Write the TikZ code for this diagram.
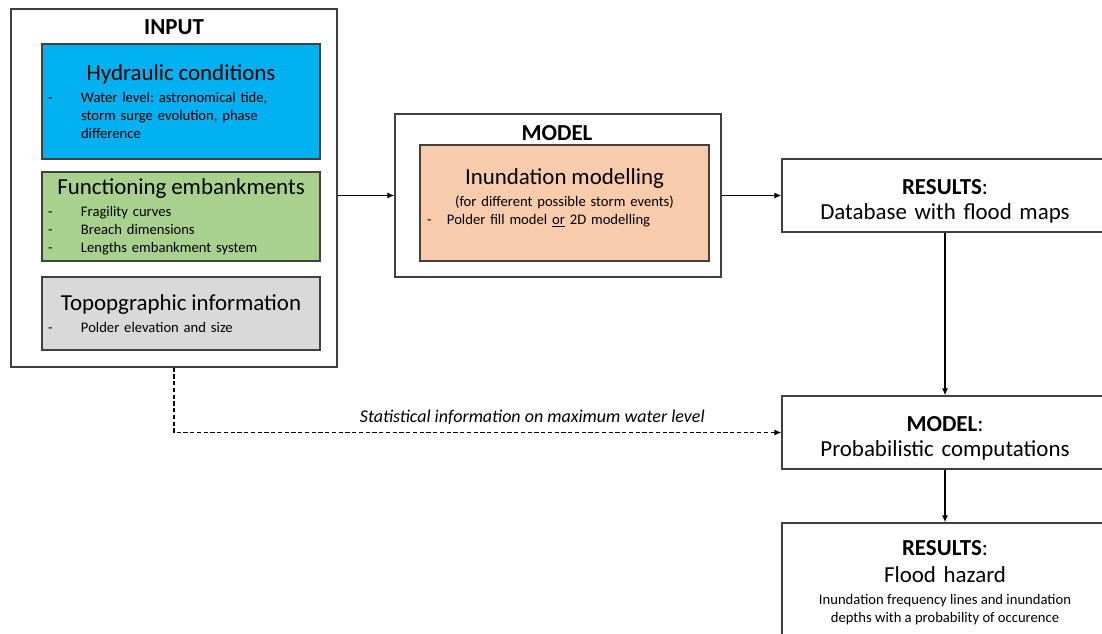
\documentclass[tikz,border=0pt]{standalone}
\usepackage{fontspec}
\setmainfont{Carlito}
\usetikzlibrary{positioning,arrows.meta}
\definecolor{hydroblue}{HTML}{00B0F0}
\definecolor{embgreen}{HTML}{A9D18E}
\definecolor{topogrey}{HTML}{D9D9D9}
\definecolor{inunorange}{HTML}{F8CBAD}
\definecolor{edgegrey}{HTML}{404040}
\setlength{\parindent}{0pt}
\frenchspacing
\newcommand{\titlesize}{\fontsize{16.3pt}{17.5pt}\selectfont}
\newcommand{\itemsize}{\fontsize{10.4pt}{12.76pt}\selectfont\spaceskip=0pt\xspaceskip=0pt}
\newcommand{\statsize}{\fontsize{12.8pt}{14pt}\selectfont}
\newcommand{\dashitem}{\makebox[0.825cm][l]{-}}
\newcommand{\dashcont}{\hspace*{0.825cm}}
\newcommand{\toppad}{\rule{0pt}{19pt}}
\newcommand{\boxhead}[1]{{\centering\titlesize #1\par}\vspace{3pt}}
\tikzset{%
outerbox/.style={draw=edgegrey,line width=1pt,minimum width=8.15cm},
inputpart/.style={draw=edgegrey,line width=1pt,text width=6.65cm,inner xsep=0.15cm,align=left,font=\itemsize},
heading/.style={font=\titlesize\bfseries,inner sep=0},
resultbox/.style={outerbox,minimum height=1.825cm,text width=7.75cm,inner xsep=0.2cm,align=center,font=\titlesize},
flow/.style={-{Latex[length=5pt,width=4.5pt]},line width=1pt},
statflow/.style={flow,dash pattern=on 3pt off 1.8pt}
}
\begin{document}
\begin{tikzpicture}
\useasboundingbox (0,0) rectangle (27.55,-15.825);
\clip (0,0) rectangle (27.55,-15.825);

% input side
\node[outerbox,minimum height=8.95cm] (input) at (4.35,-4.7) {};
\node[heading,below=0.27cm of input.north] (inlbl) {INPUT};
\node[inputpart,fill=hydroblue,minimum height=2.875cm] (hydro) at (4.525,-2.5375)
  {\boxhead{Hydraulic conditions}
   \dashitem Water level: astronomical tide,\\
   \dashcont storm surge evolution, phase\\
   \dashcont difference};
\node[inputpart,fill=embgreen,minimum height=2.225cm] (emb) at (4.525,-5.4125)
  {\boxhead{Functioning embankments}
   \dashitem Fragility curves\\
   \dashitem Breach dimensions\\
   \dashitem Lengths embankment system};
\node[inputpart,fill=topogrey,minimum height=1.825cm] (topo) at (4.525,-7.8375)
  {\boxhead{Topopgraphic information}
   \dashitem Polder elevation and size};

% model
\node[outerbox,minimum height=4.075cm] (model) at (13.95,-4.8875) {};
\node[draw=edgegrey,line width=1pt,fill=inunorange,minimum width=7.225cm,minimum height=2.9cm] (inun) at (14.1125,-5.075) {};
\node[heading] (modlbl) at (13.925,-3.325) {MODEL};
\node[text width=6.875cm,align=left,font=\itemsize,inner sep=0,below=0.6cm of inun.north] (inuntext)
  {\boxhead{Inundation modelling}
   {\centering (for different possible storm events)\par}
   \makebox[0.5cm][l]{-}Polder fill model \underline{or} 2D modelling};

% results
\node[resultbox] (dbase) at (23.625,-4.8875) {\toppad\textbf{RESULTS}:\\Database with flood maps};
\node[resultbox] (prob) at (23.625,-10.8125) {\toppad\textbf{MODEL}:\\Probabilistic computations};
\node[resultbox,minimum height=2.925cm] (hazard) at (23.625,-14.5375)
  {\rule{0pt}{14.5pt}\textbf{RESULTS}:\\[1.5pt]Flood hazard\par\vspace{6pt}
   {\itemsize\begin{tabular}{@{}c@{}}Inundation frequency lines and inundation\\
    depths with a probability of occurence\end{tabular}\par}};

\draw[flow] (input.east |- model.west) -- (model.west);
\draw[flow] (model) -- (dbase);
\draw[flow] (dbase) -- (prob);
\draw[flow] (prob) -- (hazard);
\draw[statflow] (input.south) |- node[pos=0.795,above=2pt,font=\itshape\statsize] (statlbl)
  {Statistical information on maximum water level} (prob.west);

\end{tikzpicture}
\end{document}
